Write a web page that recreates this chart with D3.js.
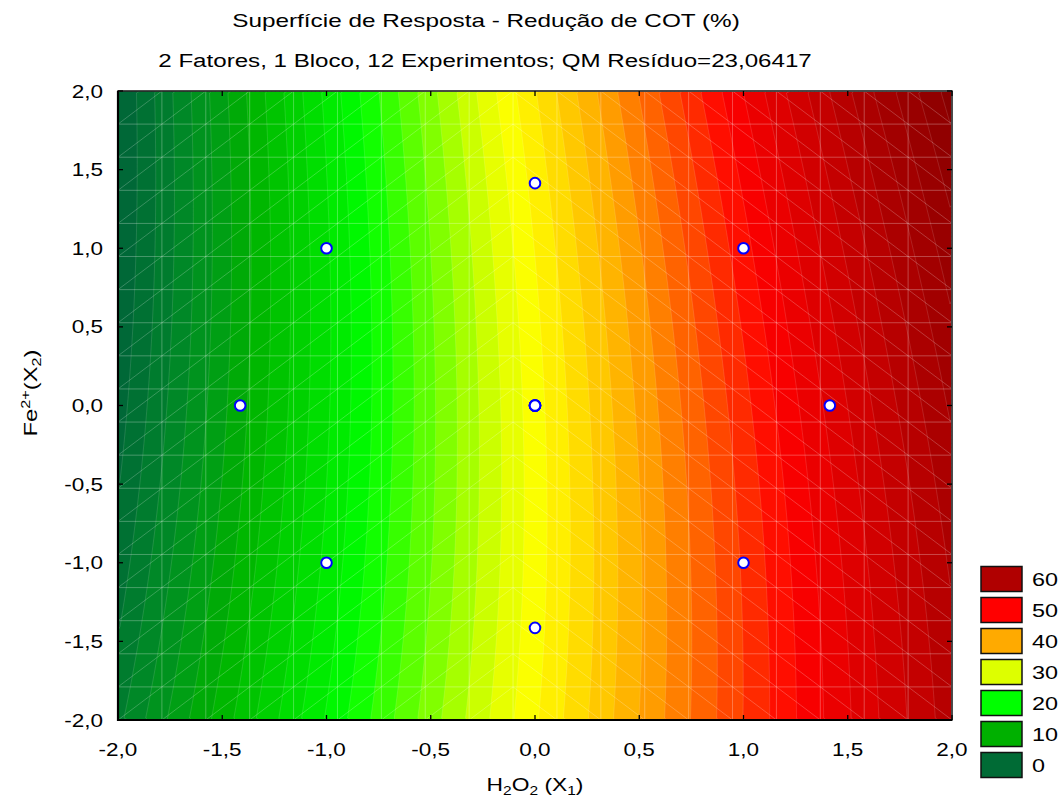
<!DOCTYPE html>
<html>
<head>
<meta charset="utf-8">
<script src="https://cdn.jsdelivr.net/npm/d3@7"></script>
<style>
  html, body { margin: 0; padding: 0; background: #fff; }
  svg { display: block; font-family: "Liberation Sans", Arial, sans-serif; }
</style>
</head>
<body>
<svg id="chart" width="1062" height="802"></svg>
<script>
// ---- data ----
const titleText = "Superfície de Resposta - Redução de COT (%)";
const subtitleText = "2 Fatores, 1 Bloco, 12 Experimentos; QM Resíduo=23,06417";

// fitted second-order model: b0, b1 (X1), b2 (X2), b11 (X1²), b22 (X2²), b12 (X1·X2)
const modelCoef = [32.6, 15.7, 0.45, -0.5, 0.35, 0.8];

// central composite design, coded levels
const designX1 = [-1, 1, -1, 1, -1.414, 1.414, 0, 0, 0, 0, 0, 0];
const designX2 = [-1, -1, 1, 1, 0, 0, -1.414, 1.414, 0, 0, 0, 0];

const axisTicks = [-2, -1.5, -1, -0.5, 0, 0.5, 1, 1.5, 2];
const axisTickLabels = ["-2,0", "-1,5", "-1,0", "-0,5", "0,0", "0,5", "1,0", "1,5", "2,0"];

const legendValues = [60, 50, 40, 30, 20, 10, 0];
const legendColors = ["#b00000", "#ff0000", "#ffaa00", "#ddff00", "#00ff00", "#00b000", "#006b35"];

// colour ramp, extended a little beyond the labelled range
const rampValues = [-6, 0, 10, 20, 30, 40, 50, 60, 70];
const rampColors = ["#00553f", "#006b35", "#00b000", "#00ff00", "#ddff00", "#ffaa00", "#ff0000", "#b00000", "#7a0000"];

const levelStep = 10 / 6;
const meshCells = 19;

// ---- layout ----
const plot = { left: 118, right: 952, top: 91, bottom: 720 };
const svg = d3.select("#chart");

const x = d3.scaleLinear().domain([-2, 2]).range([plot.left, plot.right]);
const y = d3.scaleLinear().domain([-2, 2]).range([plot.bottom, plot.top]);

const ramp = d3.scaleLinear().domain(rampValues).range(rampColors)
  .interpolate(d3.interpolateHsl).clamp(true);

function model(a, b) {
  const [b0, b1, b2, b11, b22, b12] = modelCoef;
  return b0 + b1 * a + b2 * b + b11 * a * a + b22 * b * b + b12 * a * b;
}

// text with a slightly widened face; parts may be raised or lowered
function addText(parent, px, py, str, size, anchor, sx, rot) {
  const t = parent.append("text")
    .attr("transform", `translate(${px},${py})` + (rot ? ` rotate(${rot})` : "") + ` scale(${sx},1)`)
    .attr("text-anchor", anchor)
    .attr("font-size", size)
    .attr("fill", "#000");
  if (typeof str === "string") t.text(str);
  else str.forEach(part => {
    const s = t.append("tspan").text(part.t);
    if (part.shift) s.attr("baseline-shift", part.shift).attr("font-size", size * 0.68);
  });
  return t;
}

// ---- clip ----
svg.append("defs").append("clipPath").attr("id", "plotClip")
  .append("rect")
  .attr("x", plot.left).attr("y", plot.top)
  .attr("width", plot.right - plot.left).attr("height", plot.bottom - plot.top);

const area = svg.append("g").attr("clip-path", "url(#plotClip)");

// ---- filled contours ----
const nx = 209, ny = 158;
const grid = new Array(nx * ny);
for (let j = 0; j < ny; j++) {
  const b = 2 - 4 * (j + 0.5) / ny;
  for (let i = 0; i < nx; i++) {
    const a = -2 + 4 * (i + 0.5) / nx;
    grid[j * nx + i] = model(a, b);
  }
}
const thresholds = d3.range(-10, 80, levelStep);
const bands = d3.contours().size([nx, ny]).thresholds(thresholds)(grid);

const proj = d3.geoTransform({
  point: function (u, v) {
    this.stream.point(x(-2 + 4 * u / nx), y(2 - 4 * v / ny));
  }
});
const path = d3.geoPath(proj);

area.append("g").selectAll("path")
  .data(bands)
  .join("path")
  .attr("d", path)
  .attr("fill", d => ramp(d.value + levelStep / 2))
  .attr("stroke", "none");

// faint seams along the band edges
area.append("g").selectAll("path")
  .data(bands)
  .join("path")
  .attr("d", path)
  .attr("fill", "none")
  .attr("stroke", "#fff")
  .attr("stroke-opacity", 0.16)
  .attr("stroke-width", 0.8);

// ---- triangulated mesh ----
const meshPos = d3.range(meshCells + 1).map(k => -2 + 4 * k / meshCells);
const mesh = area.append("g")
  .attr("stroke", "#fff").attr("stroke-opacity", 0.28).attr("stroke-width", 1)
  .attr("fill", "none");
meshPos.forEach(p => {
  mesh.append("line").attr("x1", x(p)).attr("x2", x(p)).attr("y1", y(-2)).attr("y2", y(2));
  mesh.append("line").attr("y1", y(p)).attr("y2", y(p)).attr("x1", x(-2)).attr("x2", x(2));
});
const diag = [];
for (let i = 0; i < meshCells; i++) {
  for (let j = 0; j < meshCells; j++) {
    const a0 = meshPos[i], a1 = meshPos[i + 1], b0 = meshPos[j], b1 = meshPos[j + 1];
    const rising = (a0 + a1) / 2 < -1e-9;
    diag.push(rising ? [a0, b0, a1, b1] : [a0, b1, a1, b0]);
  }
}
mesh.selectAll("line.diag").data(diag).join("line").attr("class", "diag")
  .attr("x1", d => x(d[0])).attr("y1", d => y(d[1]))
  .attr("x2", d => x(d[2])).attr("y2", d => y(d[3]))
  .attr("stroke-opacity", 0.22);

// ---- design points ----
svg.append("g").selectAll("circle")
  .data(designX1.map((v, i) => [v, designX2[i]]))
  .join("circle")
  .attr("cx", d => x(d[0])).attr("cy", d => y(d[1]))
  .attr("r", 5.3)
  .attr("fill", "#fff").attr("stroke", "#0000ff").attr("stroke-width", 2);

// ---- frame and ticks ----
const frame = svg.append("g");
frame.append("rect")
  .attr("x", plot.left).attr("y", plot.top)
  .attr("width", plot.right - plot.left).attr("height", plot.bottom - plot.top)
  .attr("fill", "none").attr("stroke", "#000").attr("stroke-width", 1.4);
frame.append("line").attr("x1", plot.left).attr("x2", plot.left).attr("y1", plot.top).attr("y2", plot.bottom + 1)
  .attr("stroke", "#000").attr("stroke-width", 2.2);
frame.append("line").attr("x1", plot.left - 1).attr("x2", plot.right).attr("y1", plot.bottom).attr("y2", plot.bottom)
  .attr("stroke", "#000").attr("stroke-width", 2.2);

const tickLen = 5;
const ticks = frame.append("g").attr("stroke", "#000").attr("stroke-width", 1.3);
axisTicks.forEach(v => {
  ticks.append("line").attr("x1", x(v)).attr("x2", x(v)).attr("y1", plot.bottom).attr("y2", plot.bottom - tickLen);
  ticks.append("line").attr("x1", x(v)).attr("x2", x(v)).attr("y1", plot.top).attr("y2", plot.top + tickLen);
  ticks.append("line").attr("y1", y(v)).attr("y2", y(v)).attr("x1", plot.left).attr("x2", plot.left + tickLen);
  ticks.append("line").attr("y1", y(v)).attr("y2", y(v)).attr("x1", plot.right).attr("x2", plot.right - tickLen);
});

// ---- tick labels ----
const labels = svg.append("g");
axisTicks.forEach((v, i) => {
  addText(labels, x(v), 756, axisTickLabels[i], 18, "middle", 1.25);
  addText(labels, 103, y(v) + 6.5, axisTickLabels[i], 18, "end", 1.25);
});

// ---- titles ----
addText(svg, 486, 27, titleText, 19, "middle", 1.28);
addText(svg, 485, 67, subtitleText, 19, "middle", 1.27);

addText(svg, 535, 791, [
  { t: "H" }, { t: "2", shift: "-4" }, { t: "O" }, { t: "2", shift: "-4" },
  { t: " (X" }, { t: "1", shift: "-4" }, { t: ")" }
], 19, "middle", 1.2);

addText(svg, 37, 393, [
  { t: "Fe" }, { t: "2+", shift: "super" }, { t: "(X" }, { t: "2", shift: "-4" }, { t: ")" }
], 19, "middle", 1.25, -90);

// ---- legend ----
const legend = svg.append("g");
legendValues.forEach((v, k) => {
  const top = 566.5 + 31 * k;
  legend.append("rect")
    .attr("x", 981).attr("y", top).attr("width", 41).attr("height", 25)
    .attr("fill", legendColors[k]).attr("stroke", "#111").attr("stroke-width", 1.5);
  addText(legend, 1032, top + 12.5 + 6.5, String(v), 18, "start", 1.3);
});
</script>
</body>
</html>
